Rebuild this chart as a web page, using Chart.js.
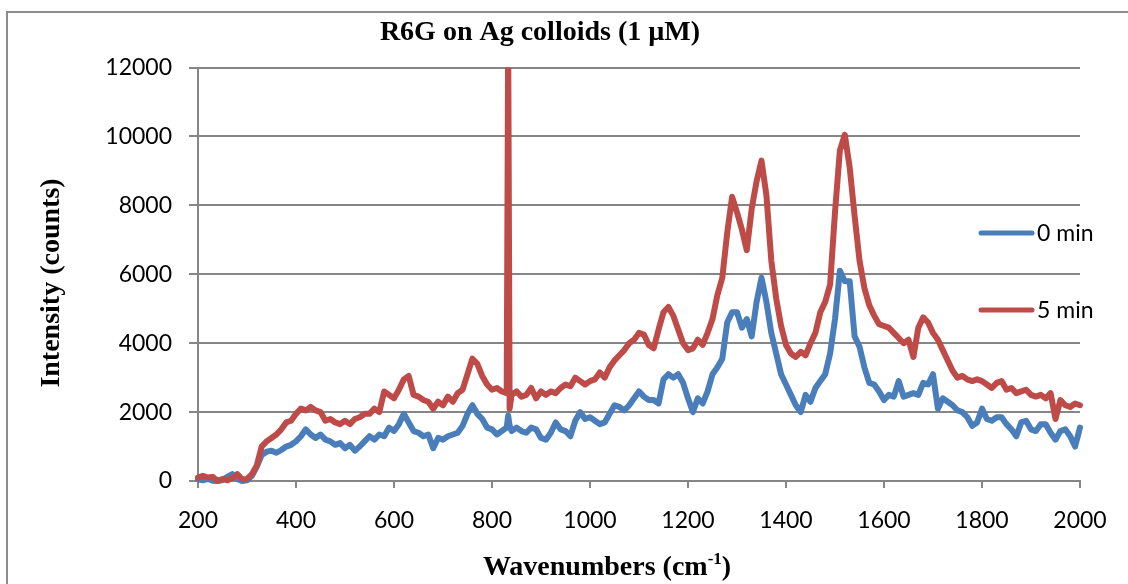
<!DOCTYPE html>
<html lang="en">
<head>
    <meta charset="UTF-8">
    <title>R6G on Ag colloids (1 µM)</title>
    <script src="https://cdn.jsdelivr.net/npm/chart.js"></script>
    <style>
        html, body { margin: 0; padding: 0; background: #fff; }
        #wrap { width: 1128px; height: 584px; }
    </style>
</head>
<body>
    <div id="wrap">
        <canvas id="spectrum" width="1128" height="584"></canvas>
    </div>

    <script>
        // Wavenumber axis (cm-1), shared by both spectra
        let wavenumbers = [
            200, 210, 220, 230, 240, 250, 260, 270, 280, 290,
            300, 310, 320, 330, 340, 350, 360, 370, 380, 390,
            400, 410, 420, 430, 440, 450, 460, 470, 480, 490,
            500, 510, 520, 530, 540, 550, 560, 570, 580, 590,
            600, 610, 620, 630, 640, 650, 660, 670, 680, 690,
            700, 710, 720, 730, 740, 750, 760, 770, 780, 790,
            800, 810, 820, 830, 833, 836, 840, 850, 860, 870, 880, 890,
            900, 910, 920, 930, 940, 950, 960, 970, 980, 990,
            1000, 1010, 1020, 1030, 1040, 1050, 1060, 1070, 1080, 1090,
            1100, 1110, 1120, 1130, 1140, 1150, 1160, 1170, 1180, 1190,
            1200, 1210, 1220, 1230, 1240, 1250, 1260, 1270, 1280, 1290,
            1300, 1310, 1320, 1330, 1340, 1350, 1360, 1370, 1380, 1390,
            1400, 1410, 1420, 1430, 1440, 1450, 1460, 1470, 1480, 1490,
            1500, 1510, 1520, 1530, 1540, 1550, 1560, 1570, 1580, 1590,
            1600, 1610, 1620, 1630, 1640, 1650, 1660, 1670, 1680, 1690,
            1700, 1710, 1720, 1730, 1740, 1750, 1760, 1770, 1780, 1790,
            1800, 1810, 1820, 1830, 1840, 1850, 1860, 1870, 1880, 1890,
            1900, 1910, 1920, 1930, 1940, 1950, 1960, 1970, 1980, 1990,
            2000
        ];

        // 0 min spectrum (counts)
        let min0 = [
            50, 20, 60, 10, 0, 30, 120, 200, 60, 0,
            20, 150, 420, 750, 850, 880, 820, 900, 1000, 1050,
            1150, 1300, 1500, 1350, 1250, 1350, 1200, 1150, 1050, 1100,
            950, 1050, 880, 1000, 1150, 1300, 1200, 1350, 1300, 1550,
            1450, 1650, 1950, 1700, 1450, 1400, 1300, 1350, 950, 1250,
            1200, 1300, 1350, 1400, 1600, 1950, 2200, 1950, 1800, 1550,
            1500, 1350, 1450, 1550, 1900, 1600, 1450, 1550, 1450, 1400, 1550, 1500,
            1250, 1200, 1400, 1700, 1500, 1450, 1300, 1750, 2000, 1800,
            1850, 1750, 1650, 1700, 1950, 2200, 2150, 2050, 2200, 2400,
            2600, 2450, 2350, 2350, 2250, 2950, 3100, 3000, 3100, 2850,
            2400, 2000, 2400, 2250, 2600, 3100, 3300, 3550, 4600, 4900,
            4900, 4450, 4700, 4200, 5200, 5900, 5200, 4300, 3700, 3100,
            2800, 2500, 2200, 2000, 2500, 2300, 2700, 2900, 3100, 3700,
            4700, 6100, 5800, 5800, 4200, 3900, 3300, 2850, 2800, 2600,
            2350, 2500, 2450, 2900, 2450, 2500, 2550, 2500, 2850, 2800,
            3100, 2100, 2400, 2300, 2200, 2050, 2000, 1850, 1600, 1700,
            2100, 1800, 1750, 1850, 1850, 1650, 1500, 1300, 1700, 1750,
            1500, 1450, 1650, 1650, 1400, 1200, 1450, 1500, 1300, 1000,
            1550
        ];

        // 5 min spectrum (counts)
        let min5 = [
            100, 150, 100, 120, 0, 60, 20, 80, 200, 50,
            60, 200, 450, 1000, 1150, 1250, 1350, 1500, 1700, 1750,
            1950, 2100, 2050, 2150, 2050, 2000, 1750, 1800, 1700, 1650,
            1750, 1650, 1800, 1850, 1950, 1950, 2100, 2000, 2600, 2500,
            2400, 2650, 2950, 3050, 2500, 2450, 2350, 2300, 2100, 2300,
            2200, 2450, 2300, 2550, 2650, 3100, 3550, 3400, 3050, 2800,
            2650, 2700, 2600, 2550, 13000, 2100, 2500, 2600, 2450, 2500, 2700, 2400,
            2600, 2500, 2600, 2550, 2700, 2800, 2750, 3000, 2900, 2800,
            2900, 2950, 3150, 3000, 3300, 3500, 3650, 3800, 4000, 4100,
            4300, 4250, 3950, 3850, 4400, 4900, 5050, 4800, 4400, 4000,
            3800, 3850, 4100, 3950, 4300, 4700, 5400, 5900, 7200, 8250,
            7800, 7300, 6700, 7900, 8700, 9300, 8300, 6400, 5300, 4500,
            3950, 3700, 3600, 3750, 3650, 4000, 4300, 4900, 5200, 5700,
            7800, 9600, 10050, 9100, 7700, 6400, 5600, 5100, 4800, 4550,
            4500, 4450, 4300, 4150, 4000, 4100, 3600, 4450, 4750, 4600,
            4300, 4100, 3800, 3500, 3200, 3000, 3050, 2950, 2900, 2950,
            2900, 2800, 2700, 2850, 2900, 2650, 2700, 2550, 2600, 2650,
            2500, 2450, 2500, 2400, 2550, 1800, 2350, 2200, 2150, 2250,
            2200
        ];

        let seriesNames = ["0 min", "5 min"];
        let seriesColors = ["#4A7EBB", "#BE4B48"];
        let xTicks = [200, 2000, 200];      // min, max, step
        let yTicks = [0, 12000, 2000];

        let gridGray = "#868686";
        let tickFont = { family: "Lato", size: 23 };
        let serif = "'Liberation Serif', 'Times New Roman', serif";

        function toPoints(values) {
            return wavenumbers.map((w, i) => ({ x: w, y: values[i] }));
        }

        // outer chart frame (the box runs off the right and bottom edges)
        const framePlugin = {
            id: "frame",
            beforeDraw(chart) {
                const ctx = chart.ctx;
                ctx.save();
                ctx.fillStyle = "#fff";
                ctx.fillRect(0, 0, chart.width, chart.height);
                ctx.strokeStyle = "#8c8c8c";
                ctx.lineWidth = 2;
                ctx.strokeRect(7, 12, chart.width + 100, chart.height + 100);
                ctx.restore();
            }
        };

        // legend sitting inside the plot, right side
        const legendPlugin = {
            id: "sideLegend",
            afterDraw(chart) {
                const ctx = chart.ctx;
                const rows = [233, 310];
                ctx.save();
                seriesNames.forEach((name, i) => {
                    ctx.strokeStyle = seriesColors[i];
                    ctx.lineWidth = 5;
                    ctx.lineCap = "round";
                    ctx.beginPath();
                    ctx.moveTo(981, rows[i]);
                    ctx.lineTo(1032, rows[i]);
                    ctx.stroke();
                    ctx.fillStyle = "#000";
                    ctx.font = "23px Lato";
                    ctx.textAlign = "left";
                    ctx.textBaseline = "middle";
                    ctx.fillText(name, 1037, rows[i] + 1);
                });
                ctx.restore();
            }
        };

        // axis titles (x title needs a superscript)
        const axisTitlePlugin = {
            id: "axisTitles",
            afterDraw(chart) {
                const ctx = chart.ctx;
                ctx.save();
                ctx.fillStyle = "#000";

                // y title
                ctx.font = "bold 28px " + serif;
                ctx.textAlign = "center";
                ctx.textBaseline = "middle";
                ctx.translate(52, 283);
                ctx.rotate(-Math.PI / 2);
                ctx.fillText("Intensity (counts)", 0, 0);
                ctx.setTransform(1, 0, 0, 1, 0, 0);

                // x title
                const main = "Wavenumbers (cm";
                const sup = "-1";
                const tail = ")";
                ctx.textBaseline = "alphabetic";
                ctx.textAlign = "left";
                ctx.font = "bold 28px " + serif;
                const wMain = ctx.measureText(main).width;
                const wTail = ctx.measureText(tail).width;
                ctx.font = "bold 17px " + serif;
                const wSup = ctx.measureText(sup).width;
                const total = wMain + wSup + wTail;
                let x = 607 - total / 2;
                const base = 575;
                ctx.font = "bold 28px " + serif;
                ctx.fillText(main, x, base);
                x += wMain;
                ctx.font = "bold 17px " + serif;
                ctx.fillText(sup, x, base - 11);
                x += wSup;
                ctx.font = "bold 28px " + serif;
                ctx.fillText(tail, x, base);
                ctx.restore();
            }
        };

        let config = {
            type: "line",
            data: {
                datasets: [
                    {
                        label: seriesNames[0],
                        data: toPoints(min0),
                        borderColor: seriesColors[0],
                        borderWidth: 6,
                        order: 2
                    },
                    {
                        label: seriesNames[1],
                        data: toPoints(min5),
                        borderColor: seriesColors[1],
                        borderWidth: 6,
                        order: 1
                    }
                ]
            },
            options: {
                responsive: false,
                animation: false,
                devicePixelRatio: 1,
                layout: { padding: { left: 0, right: 48, top: 0, bottom: 0 } },
                elements: {
                    point: { radius: 0 },
                    line: {
                        tension: 0,
                        borderCapStyle: "round",
                        borderJoinStyle: "round",
                        fill: false
                    }
                },
                datasets: {
                    line: { clip: { left: 5, right: 5, top: 0, bottom: 5 } }
                },
                plugins: {
                    legend: { display: false },
                    tooltip: { enabled: false },
                    title: {
                        display: true,
                        text: "R6G on Ag colloids (1 µM)",
                        color: "#000",
                        font: { family: serif, size: 28, weight: "bold" },
                        padding: { top: 16, bottom: 18 }
                    }
                },
                scales: {
                    x: {
                        type: "linear",
                        min: xTicks[0],
                        max: xTicks[1],
                        afterFit: (scale) => { scale.height = 103; },
                        ticks: {
                            stepSize: xTicks[2],
                            color: "#000",
                            font: tickFont,
                            padding: 19,
                            maxRotation: 0,
                            callback: (value) => String(value)
                        },
                        grid: {
                            drawOnChartArea: false,
                            drawTicks: true,
                            tickLength: 7,
                            color: gridGray,
                            lineWidth: 2
                        },
                        border: { display: true, color: gridGray, width: 2 }
                    },
                    y: {
                        min: yTicks[0],
                        max: yTicks[1],
                        afterFit: (scale) => { scale.width = 198; },
                        ticks: {
                            stepSize: yTicks[2],
                            color: "#000",
                            font: tickFont,
                            padding: 17,
                            callback: (value) => String(value)
                        },
                        grid: {
                            color: gridGray,
                            lineWidth: 2,
                            drawTicks: true,
                            tickLength: 9
                        },
                        border: { display: true, color: gridGray, width: 2 }
                    }
                }
            },
            plugins: [framePlugin, legendPlugin, axisTitlePlugin]
        };

        new Chart(document.getElementById("spectrum"), config);
    </script>
</body>
</html>
